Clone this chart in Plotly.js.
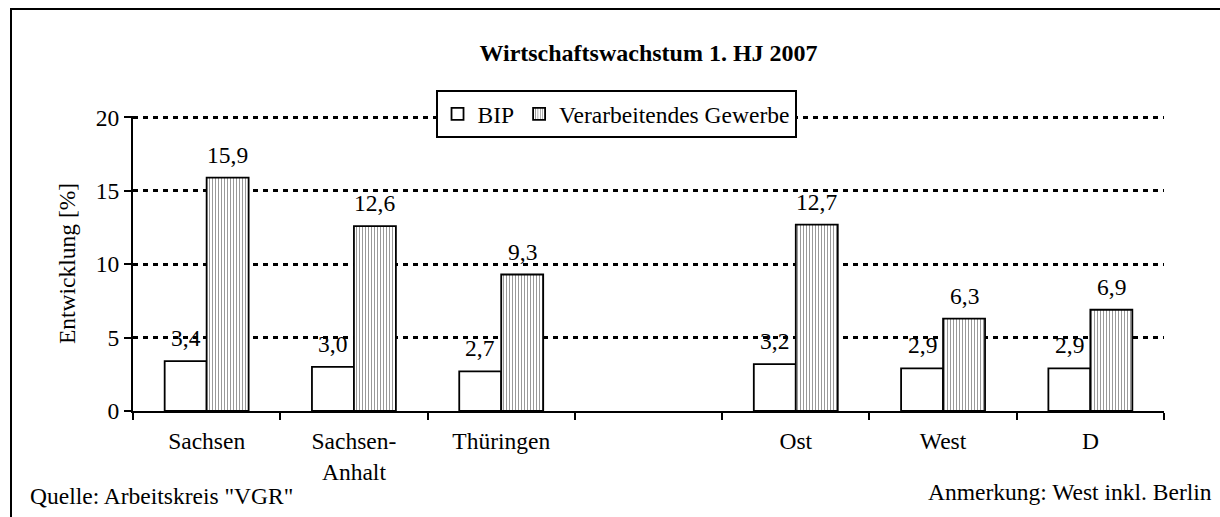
<!DOCTYPE html>
<html>
<head>
<meta charset="utf-8">
<script src="https://cdn.plot.ly/plotly-3.0.1.min.js"></script>
<style>
  html, body { margin: 0; padding: 0; background: #fff; }
  #frame { position: absolute; left: 10px; top: 8px; width: 1300px; height: 600px;
           border-top: 2px solid #000; border-left: 2px solid #000; pointer-events: none; }
  #chart { position: absolute; left: 0; top: 0; width: 1220px; height: 517px; }
</style>
</head>
<body>
<div id="chart"></div>
<div id="frame"></div>
<script>
const categories = ['Sachsen', 'Sachsen-<br>Anhalt', 'Thüringen', ' ', 'Ost', 'West', 'D'];
const bip = [3.4, 3.0, 2.7, null, 3.2, 2.9, 2.9];
const verarbeitend = [15.9, 12.6, 9.3, null, 12.7, 6.3, 6.9];
const seriesNames = ['BIP', 'Verarbeitendes Gewerbe'];
const yTicks = [0, 5, 10, 15, 20];
const chartTitle = 'Wirtschaftswachstum 1. HJ 2007';
const yTitle = 'Entwicklung [%]';
const sourceNote = 'Quelle: Arbeitskreis "VGR"';
const remarkNote = 'Anmerkung: West inkl. Berlin';

const FONT = 'Liberation Serif, Times New Roman, serif';
const FS = 23.5;
const fmt = v => v.toFixed(1).replace('.', ',');

const traces = [
  {
    type: 'bar', name: seriesNames[0], x: categories, y: bip,
    marker: { color: '#ffffff', line: { color: '#000', width: 1.8 } },
    hoverinfo: 'skip'
  },
  {
    type: 'bar', name: seriesNames[1], x: categories, y: verarbeitend,
    marker: { color: '#ffffff', line: { color: '#000', width: 1.8 },
      pattern: { shape: '|', fgcolor: '#999999', bgcolor: '#ffffff', size: 3, solidity: 0.35 } },
    hoverinfo: 'skip'
  }
];

const annotations = [];
categories.forEach((c, i) => {
  if (bip[i] != null) annotations.push({ x: c, y: bip[i], xref: 'x', yref: 'y', text: fmt(bip[i]),
    showarrow: false, yanchor: 'bottom', xanchor: 'center', xshift: -21, yshift: 8,
    font: { family: FONT, size: FS, color: '#000' } });
  if (verarbeitend[i] != null) annotations.push({ x: c, y: verarbeitend[i], xref: 'x', yref: 'y', text: fmt(verarbeitend[i]),
    showarrow: false, yanchor: 'bottom', xanchor: 'center', xshift: 21, yshift: 8,
    font: { family: FONT, size: FS, color: '#000' } });
});
annotations.push({ xref: 'paper', yref: 'paper', x: -0.1018, y: -0.2867, xanchor: 'left', yanchor: 'middle',
  text: sourceNote, showarrow: false, font: { family: FONT, size: FS, color: '#000' } });
annotations.push({ xref: 'paper', yref: 'paper', x: 1.0485, y: -0.273, xanchor: 'right', yanchor: 'middle',
  text: remarkNote, showarrow: false, font: { family: FONT, size: FS, color: '#000' } });

const yRange = [0, 20.1];
const layout = {
  width: 1220, height: 517,
  margin: { l: 133, r: 56, t: 116, b: 106 },
  paper_bgcolor: 'rgba(0,0,0,0)', plot_bgcolor: '#fff',
  font: { family: FONT, size: FS, color: '#000' },
  title: { text: '<b>' + chartTitle + '</b>', x: 0.5, xref: 'paper', xanchor: 'center',
    y: 1 - 53 / 517, yanchor: 'middle', font: { family: FONT, size: 24, color: '#000' } },
  barmode: 'group', bargap: 0.43, bargroupgap: 0,
  xaxis: {
    type: 'category', tickson: 'boundaries', ticks: 'outside', ticklen: 7, tickwidth: 2, tickcolor: '#000',
    showline: true, linecolor: '#000', linewidth: 2, showgrid: false, zeroline: false,
    ticklabelstandoff: 8, tickfont: { family: FONT, size: FS, color: '#000' }
  },
  yaxis: {
    range: yRange, tickvals: yTicks, ticktext: yTicks.map(String),
    ticks: 'outside', ticklen: 7, tickwidth: 2, tickcolor: '#000',
    showline: true, linecolor: '#000', linewidth: 2, zeroline: false,
    showgrid: true, gridcolor: '#000', gridwidth: 3, griddash: '5px,5px',
    tickfont: { family: FONT, size: FS, color: '#000' },
    title: { text: yTitle, standoff: 14, font: { family: FONT, size: FS, color: '#000' } }
  },
  yaxis2: {
    overlaying: 'y', side: 'left', anchor: 'x', range: yRange, tickvals: yTicks,
    ticks: 'inside', ticklen: 7, tickwidth: 2, tickcolor: '#000',
    showticklabels: false, showline: false, showgrid: false, zeroline: false
  },
  showlegend: true,
  legend: {
    orientation: 'h', x: 0.4685, xanchor: 'center', y: (411 - 90) / 295, yanchor: 'top',
    bgcolor: '#fff', bordercolor: '#000', borderwidth: 2,
    font: { family: FONT, size: FS, color: '#000' }, itemwidth: 30, tracegroupgap: 0
  },
  annotations: annotations
};

Plotly.newPlot('chart', traces, layout, { displayModeBar: false, staticPlot: true });
</script>
</body>
</html>
